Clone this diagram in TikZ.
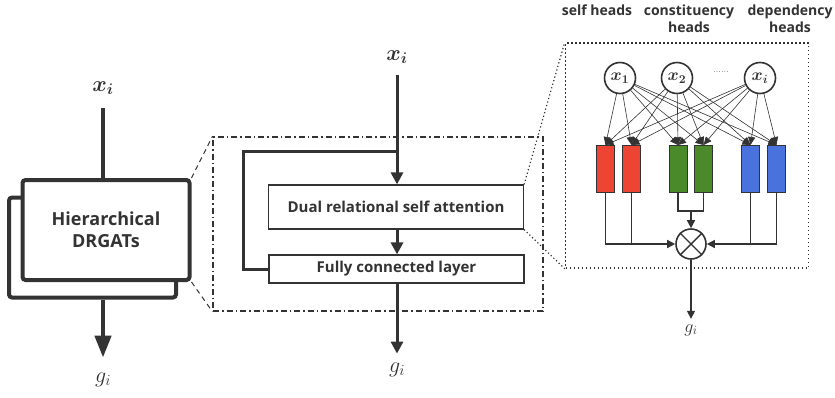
\RequirePackage{fix-cm}
\documentclass[tikz,border=0pt]{standalone}
\usepackage{amsmath}
\usepackage{fontspec}
\setsansfont{Open Sans}
\usetikzlibrary{arrows.meta}
\definecolor{ink}{HTML}{333333}
\definecolor{headred}{HTML}{EE4433}
\definecolor{headgreen}{HTML}{4A8A2A}
\definecolor{headblue}{HTML}{4A72DD}
\tikzset{
  heavy/.style={draw=ink, line width=4.5pt},
  heavyarrow/.style={heavy, -{Triangle[length=22pt,width=16pt]}},
  midline/.style={draw=ink, line width=3pt},
  midarrow/.style={midline, -{Triangle[length=12pt,width=12pt]}},
  thinline/.style={draw=ink, line width=1.4pt},
  thinarrow/.style={thinline, -{Triangle[length=8pt,width=8pt]}},
  fanarrow/.style={draw=ink, line width=0.6pt, -{Triangle[length=8pt,width=7pt]}},
  hblock/.style={draw=ink, line width=4pt, rounded corners=3pt, fill=white,
    minimum width=167pt, minimum height=100pt, align=center, text=ink,
    font=\sffamily\bfseries\fontsize{18}{22}\selectfont},
  layerbox/.style={draw=ink, line width=1.2pt, fill=white, minimum width=255pt,
    text=ink, font=\sffamily\bfseries\fontsize{15}{17}\selectfont},
  headbar/.style={draw=ink, line width=1pt, minimum width=18pt, minimum height=47pt, inner sep=0pt},
  token/.style={circle, draw=ink, line width=1.6pt, minimum size=31pt, inner sep=0pt,
    text=ink, font=\fontsize{17}{19}\selectfont},
  headlabel/.style={align=center, text=ink, font=\sffamily\bfseries\fontsize{14}{17}\selectfont},
  biglabel/.style={text=ink, font=\fontsize{22}{26}\selectfont},
  dashdotbox/.style={draw=ink, line width=1.2pt, dash pattern=on 6pt off 3pt on 1.5pt off 3pt},
  dotbox/.style={draw=ink, line width=1.5pt, dash pattern=on 1.5pt off 2.5pt},
  zoomdash/.style={draw=ink, line width=1pt, dash pattern=on 5pt off 4pt},
  zoomdot/.style={draw=ink, line width=1.2pt, dash pattern=on 1.2pt off 2.5pt},
}
\begin{document}
\begin{tikzpicture}[x=1pt,y=-1pt]
  \useasboundingbox (0,0) rectangle (835,397);

  %% left block
  \node[hblock] (hback) at (92.5,247.5) {};
  \node[hblock] (hfront) at (106,230) {Hierarchical\\DRGATs};
  \node[biglabel] (xL) at (103,88) {$\boldsymbol{x_i}$};
  \node[biglabel] (gL) at (103,380) {$g_i$};
  \draw[heavy, shorten <=10pt] (xL.south) -- (xL.south |- hfront.north);
  \draw[heavyarrow, shorten >=12pt] (gL |- hback.south) -- (gL.north);

  %% middle block
  \node[dashdotbox, minimum width=330pt, minimum height=174pt] (frameM) at (378,224) {};
  \node[biglabel] (xM) at (397,57) {$\boldsymbol{x_i}$};
  \node[layerbox, minimum height=44pt] (drsa) at (396,207) {Dual relational self attention};
  \node[layerbox, minimum height=28pt] (fc) at (396.5,269) {Fully connected layer};
  \node[biglabel] (gM) at (397,370) {$g_i$};
  \coordinate (jn) at (397,151);
  \draw[midarrow, shorten <=8pt] (xM.south) -- (xM.south |- drsa.north);
  \draw[midline] (jn) -| ([xshift=-25pt]fc.west) -- (fc.west); % skip
  \draw[midarrow] (xM |- drsa.south) -- (xM |- fc.north);
  \draw[midarrow, shorten >=6pt] (xM |- fc.south) -- (gM.north);

  \draw[zoomdash] (hfront.north east) -- (frameM.north west);
  \draw[zoomdash] (hfront.south east) -- (frameM.south west);

  %% right block: heads
  \node[dotbox, minimum width=243pt, minimum height=225pt] (frameR) at (687,155.5) {};
  \draw[zoomdot] (drsa.north east) -- (frameR.north west);
  \draw[zoomdot] (drsa.south east) -- (frameR.south west);

  \node[headlabel] (lself) at (597,10) {self heads};
  \node[headlabel] (lcons) at (689,18.5) {constituency\\heads};
  \node[headlabel] (ldep) at (790,18.5) {dependency\\heads};

  \node[token] (t1) at (620,78) {$\boldsymbol{x_1}$};
  \node[token] (t2) at (677,78) {$\boldsymbol{x_2}$};
  \node[token] (t3) at (760,78) {$\boldsymbol{x_i}$};
  \node[text=ink, font=\small] (dots) at (721,72) {......};

  \foreach \n/\x/\c in {1/605.5/headred, 2/631.5/headred, 3/678/headgreen,
                        4/703.5/headgreen, 5/750.5/headblue, 6/776.5/headblue}
    \node[headbar, fill=\c] (b\n) at (\x,169) {};

  \foreach \t in {t1,t2,t3}
    \foreach \n in {1,...,6}
      \draw[fanarrow] (\t) -- (b\n.north);

  \node[circle, draw=ink, line width=1.6pt, minimum size=30pt, inner sep=0pt] (mul) at (691,244) {};
  \draw[thinline] (mul.north east) -- (mul.south west) (mul.north west) -- (mul.south east);

  \draw[thinarrow] (b1.south) |- (mul.west);
  \draw[thinline] (b2.south) -- (b2.south |- mul.west);
  \draw[thinarrow] (b6.south) |- (mul.east);
  \draw[thinline] (b5.south) -- (b5.south |- mul.east);
  \coordinate (gj) at (691,211);
  \draw[thinline] (b3.south) |- (gj) -| (b4.south);
  \draw[thinarrow] (gj) -- (mul.north);

  \node[text=ink, font=\fontsize{18}{20}\selectfont] (gR) at (691,330) {$g_i$};
  \draw[thinarrow, shorten >=2pt] (mul.south) -- (gR.north);
\end{tikzpicture}
\end{document}
